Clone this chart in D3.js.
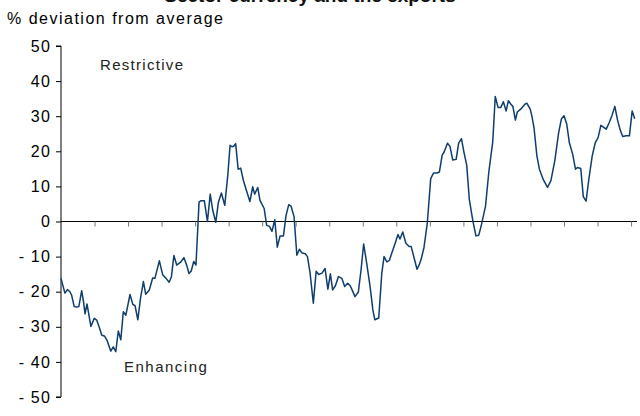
<!DOCTYPE html>
<html>
<head>
<meta charset="utf-8">
<script src="https://cdn.jsdelivr.net/npm/d3@7"></script>
<style>
  body { margin: 0; background: #fff; }
  text { font-family: "Liberation Sans", Arial, sans-serif; }
</style>
</head>
<body>
<div id="chart"></div>
<script>
const width = 640, height = 416;
const margin = {top: 46, right: 5, bottom: 19, left: 61};

// months since start of series (tick every 12 months)
const months = [0, 1.4, 2.3, 3.2, 3.8, 4.7, 5.6, 6.4, 7.4, 8.1, 8.6, 9.3, 10, 10.7, 11.9, 12.8, 13.6, 14.6, 15.5, 16.4,
  17.8, 18.7, 19.6, 20.5, 21.4, 22.3, 23.2, 24.7, 25.7, 26.5, 27.5, 28.5, 29.5, 30.3, 31.6, 32.8, 33.6, 35.2, 36.4, 37.6,
  38.7, 39.5, 40.4, 41.4, 42.8, 44, 45, 45.8, 46.6, 47.5, 48.3, 49.4, 50, 51.3, 52.4, 53.4, 54.3, 55.4, 56.3, 57.4,
  58.6, 59.7, 60.5, 61.2, 61.9, 62.5, 63.4, 64.3, 65.3, 66.5, 67.6, 68.6, 69.3, 70.4, 71.2, 72.7, 73.6, 74.6, 75.5, 76.5,
  77.4, 78.4, 79.6, 80.5, 81.5, 82.3, 83.4, 84.4, 85.3, 86.3, 87.4, 88.2, 89.1, 90.3, 91.3, 92.2, 93.4, 94.5, 95.5, 96.4,
  97.2, 98.2, 99.3, 100.5, 101.5, 102.6, 103.5, 104.4, 105.2, 106.4, 107.4, 108.3, 109.4, 110.6, 111.6, 112.3, 113.7, 114.8, 115.6, 116.6,
  117.5, 118.5, 119.4, 120.6, 121.3, 122.3, 123.4, 124.6, 125.3, 126.3, 127.4, 128.2, 128.9, 129.9, 131.1, 132.3, 133.3, 134.5, 135.4, 136.4,
  137.1, 138.3, 139.2, 140.2, 141.4, 142.3, 143.3, 144.2, 145.2, 146.1, 147.4, 148.5, 149.5, 150.4, 151.9, 153.1, 154.5, 155.4, 156.4, 157.4,
  158.3, 159.3, 160.1, 161, 161.7, 162.6, 163.3, 164.5, 166, 166.7, 167.9, 168.5, 169.3, 170.3, 171.2, 172.6, 174.1, 175.3, 176.7, 178.1,
  179.1, 180, 181, 181.9, 183.1, 184.1, 184.8, 186, 186.9, 187.9, 188.9, 190.1, 191.2, 192.2, 193.2, 194.1, 195.1, 196.2, 197.2, 198.2,
  199.1, 200.1, 201, 202.2, 203.4, 204.4, 205.3];

const values = [-16.2, -20.4, -19.4, -20.0, -21.0, -24.2, -24.4, -24.2, -19.7, -23.1, -26.3, -23.5, -26.7, -29.9, -27.6, -28.1, -29.9, -32.4, -32.6, -33.7,
  -36.9, -35.7, -37.1, -31.2, -33.7, -25.7, -26.7, -20.8, -23.6, -24.0, -28.0, -21.6, -17.1, -20.7, -19.5, -16.1, -16.2, -11.2, -15.2, -16.2,
  -17.3, -15.8, -9.7, -12.4, -11.6, -10.3, -12.5, -14.8, -14.1, -11.4, -12.4, 5.5, 5.9, 5.9, 0.0, 7.8, 3.2, -0.2, 5.4, 8.1,
  4.6, 13.3, 21.7, 21.3, 21.5, 22.2, 14.9, 15.2, 11.6, 8.5, 5.7, 9.9, 7.8, 9.7, 6.0, 3.7, -1.1, -1.4, -2.8, 0.5,
  -7.3, -4.1, -4.1, 1.6, 4.8, 4.4, 1.4, -9.6, -7.9, -9.0, -9.2, -10.0, -14.5, -23.3, -14.2, -15.1, -14.7, -13.4, -19.3, -14.9,
  -19.5, -18.3, -15.7, -16.2, -18.5, -17.6, -18.3, -19.9, -21.4, -20.1, -13.6, -6.4, -11.9, -18.5, -25.2, -28.0, -27.5, -14.7, -10.0, -11.5,
  -11.1, -8.7, -6.6, -3.7, -5.0, -3.0, -6.2, -7.1, -7.1, -10.2, -13.6, -12.3, -10.7, -7.4, -0.3, 12.2, 13.8, 13.8, 14.1, 18.9,
  19.8, 22.3, 21.4, 17.5, 17.7, 22.3, 23.6, 19.7, 16.0, 6.4, 0.1, -4.1, -3.9, -1.1, 4.3, 14.1, 22.7, 35.6, 32.5, 32.5,
  34.1, 31.5, 34.4, 33.4, 32.8, 28.9, 31.2, 32.0, 33.4, 33.7, 32.0, 30.1, 26.5, 18.7, 14.9, 11.9, 9.7, 11.6, 17.3, 25.4,
  29.3, 30.1, 27.7, 22.5, 19.2, 14.9, 15.4, 15.1, 7.1, 5.8, 12.1, 18.7, 22.5, 23.9, 27.4, 26.9, 26.3, 28.2, 30.3, 32.8,
  29.1, 26.1, 24.2, 24.4, 24.4, 31.5, 29.3];

const yTicks = [-50, -40, -30, -20, -10, 0, 10, 20, 30, 40, 50];
const xTicks = [12, 24, 36, 48, 60, 72, 84, 96, 108, 120, 132, 144, 156, 168, 180, 192, 204];

const data = months.map((m, i) => ({m: m, v: values[i]}));

const svg = d3.select('#chart').append('svg')
  .attr('width', width).attr('height', height)
  .attr('viewBox', `0 0 ${width} ${height}`);

const x = d3.scaleLinear()
  .domain([0, 205.3])
  .range([margin.left, width - margin.right - 0.3]);
const y = d3.scaleLinear()
  .domain([-50, 50])
  .range([height - margin.bottom, margin.top]);

// title, mostly cut off at the top edge
svg.append('text')
  .attr('x', 310).attr('y', 2)
  .attr('text-anchor', 'middle')
  .attr('font-weight', 'bold')
  .attr('font-size', 19)
  .attr('fill', '#111')
  .text('Sector currency and the exports');

svg.append('text')
  .attr('x', 7).attr('y', 24)
  .attr('font-size', 16)
  .attr('letter-spacing', 1.5)
  .attr('fill', '#000')
  .text('% deviation from average');

const yAxis = svg.append('g')
  .attr('transform', `translate(${margin.left},0)`)
  .call(d3.axisLeft(y).tickValues(yTicks).tickSize(5).tickPadding(5)
    .tickFormat(d => d < 0 ? '- ' + Math.abs(d) : d));
yAxis.select('.domain').attr('stroke', '#000').attr('d', `M-5,${y(50)}H0V${y(-50)}H-5`);
yAxis.selectAll('.tick line').attr('stroke', '#000');
yAxis.selectAll('.tick text')
  .attr('font-size', 16)
  .attr('letter-spacing', 1.2)
  .attr('fill', '#000')
  .attr('font-family', '"Liberation Sans", Arial, sans-serif');

const xAxis = svg.append('g')
  .attr('transform', `translate(0,${y(0)})`)
  .call(d3.axisBottom(x).tickValues(xTicks).tickSize(5).tickFormat(''));
xAxis.select('.domain').attr('stroke', '#000').attr('d', `M${margin.left},0H${width - margin.right + 2}`);
xAxis.selectAll('.tick line').attr('stroke', '#777');

svg.append('path')
  .datum(data)
  .attr('fill', 'none')
  .attr('stroke', '#0e3d6e')
  .attr('stroke-width', 1.5)
  .attr('stroke-linejoin', 'round')
  .attr('d', d3.line().x(d => x(d.m)).y(d => y(d.v)));

svg.append('text')
  .attr('x', 100).attr('y', 70)
  .attr('font-size', 15)
  .attr('letter-spacing', 1.3)
  .attr('fill', '#222')
  .text('Restrictive');

svg.append('text')
  .attr('x', 124).attr('y', 372)
  .attr('font-size', 15)
  .attr('letter-spacing', 1.5)
  .attr('fill', '#222')
  .text('Enhancing');
</script>
</body>
</html>
